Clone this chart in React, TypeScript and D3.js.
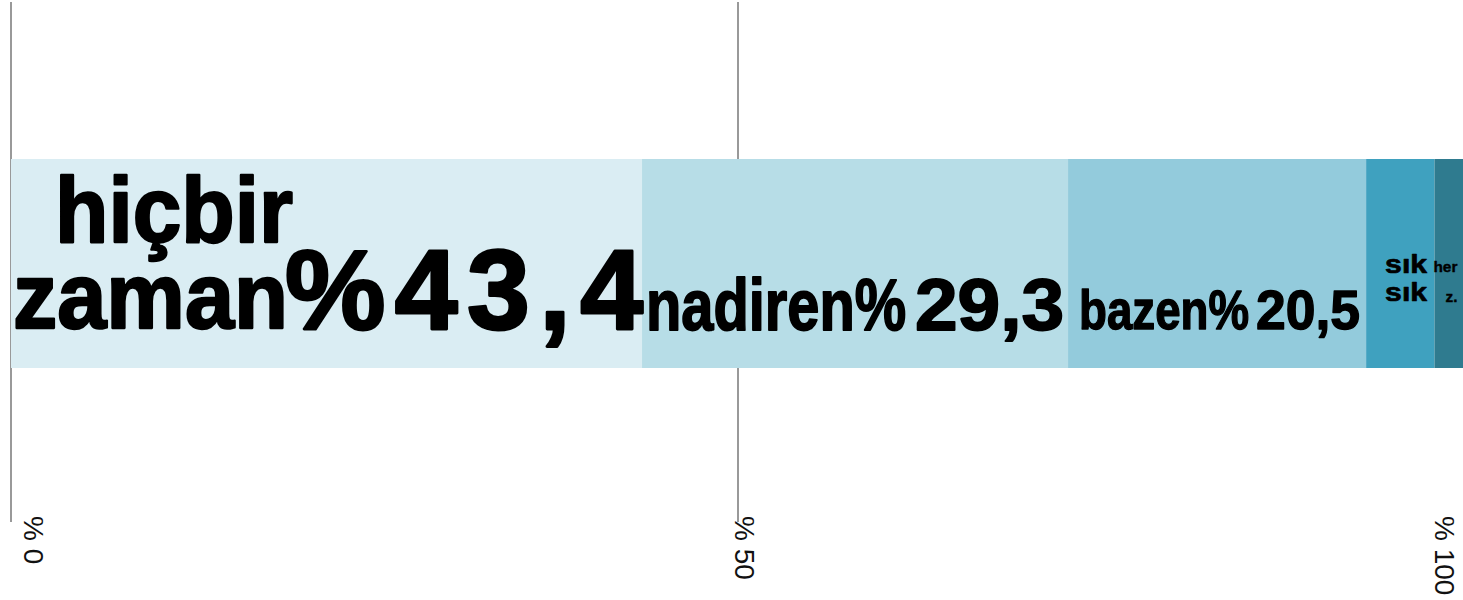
import React from "react";
import * as d3 from "d3";

// ---- data ----
const categories = ["hiçbir zaman", "nadiren", "bazen", "sık sık", "her zaman"];
const values = [43.4, 29.3, 20.5, 4.7, 2.1];
const tickValues = [0, 50, 100];
const tickLabels = ["% 0", "% 50", "% 100"];
const fmt = (v: number) => v.toFixed(1).replace(".", ",");
// text pieces shown inside each segment (derived from the data)
const pieceTexts: string[][] = [
  ["hiçbir", "zaman", "%" + fmt(values[0])],
  ["nadiren%", fmt(values[1])],
  ["bazen%", fmt(values[2])],
  ["sık", "sık"],
  ["her", "z."],
];

// ---- style / layout ----
const W = 1463;
const H = 600;
const colors = ["#daedf3", "#b7dde7", "#93cbdc", "#3fa1bf", "#2f7b8f"];
const barTop = 159;
const barBottom = 368;
const FONT = "'Liberation Sans', Arial, Helvetica, sans-serif";
type Piece = { dx: number; w: number; y: number; fs: number; adj?: "spacing" | "spacingAndGlyphs" };
const pieceLayout: Piece[][] = [
  [
    { dx: 44, w: 238, y: 242, fs: 93 },
    { dx: 2, w: 275, y: 328, fs: 93 },
    { dx: 274, w: 358, y: 329, fs: 113, adj: "spacing" },
  ],
  [
    { dx: 4, w: 260, y: 330, fs: 72 },
    { dx: 273, w: 149, y: 330, fs: 72 },
  ],
  [
    { dx: 11, w: 170, y: 329, fs: 55 },
    { dx: 188, w: 104, y: 329, fs: 55 },
  ],
  [
    { dx: 19, w: 42, y: 273, fs: 25 },
    { dx: 19, w: 42, y: 301, fs: 25 },
  ],
  [
    { dx: -1, w: 24, y: 272, fs: 15 },
    { dx: 11, w: 12, y: 302, fs: 15 },
  ],
];

export default function App() {
  const x = d3.scaleLinear().domain([0, 100]).range([11, 1465]);
  const starts = d3.cumsum([0, ...values.slice(0, -1)]);
  const segs = categories.map((c, i) => ({ c, v: values[i], s: starts[i], e: starts[i] + values[i], i }));
  const labelX = (v: number) => Math.max(24, Math.min(1435, x(v) - 3));

  return (
    <svg
      width={W}
      height={H}
      style={{ position: "absolute", left: 0, top: 0, background: "#fff" }}
      fontFamily={FONT}
    >
      {tickValues.map((t) => (
        <line key={"g" + t} x1={x(t)} x2={x(t)} y1={2} y2={522} stroke="#999" strokeWidth={2} />
      ))}
      {segs.map((d) => (
        <rect
          key={d.c}
          x={x(d.s)}
          y={barTop}
          width={x(d.e) - x(d.s)}
          height={barBottom - barTop}
          fill={colors[d.i]}
        />
      ))}
      {segs.map((d) =>
        pieceTexts[d.i].map((t, j) => {
          const p = pieceLayout[d.i][j];
          return (
            <text
              key={d.c + j}
              x={x(d.s) + p.dx}
              y={p.y}
              fontSize={p.fs}
              fontWeight={700}
              fill="#000"
              stroke="#000"
              strokeWidth={p.fs * 0.025}
              strokeLinejoin="round"
              textLength={p.w}
              lengthAdjust={p.adj || "spacingAndGlyphs"}
            >
              {t}
            </text>
          );
        })
      )}
      {tickValues.map((t, i) => (
        <text
          key={"t" + t}
          transform={`translate(${labelX(t)},516) rotate(90)`}
          fontSize={28}
          fill="#111"
        >
          {tickLabels[i]}
        </text>
      ))}
    </svg>
  );
}
